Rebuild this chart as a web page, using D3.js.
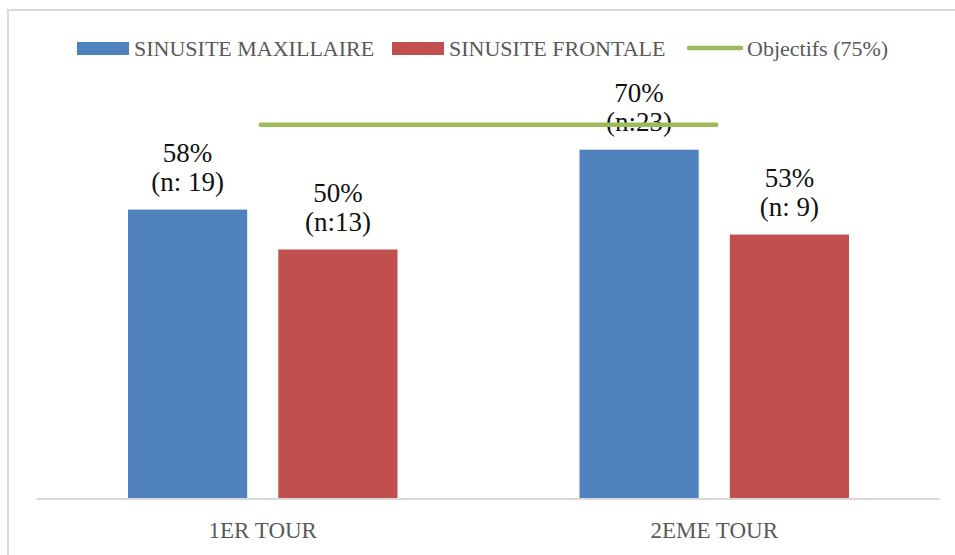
<!DOCTYPE html>
<html>
<head>
<meta charset="utf-8">
<script src="https://cdn.jsdelivr.net/npm/d3@7"></script>
<style>
  html, body { margin: 0; padding: 0; background: #fff; }
  svg { display: block; font-family: "Liberation Serif", "DejaVu Serif", serif; }
</style>
</head>
<body>
<svg id="chart" width="955" height="555"></svg>
<script>
// ── data ─────────────────────────────────────
const categories = ["1ER TOUR", "2EME TOUR"];
const seriesNames = ["SINUSITE MAXILLAIRE", "SINUSITE FRONTALE"];
const maxillaire = [58, 70];
const frontale   = [50, 53];
const maxillaireN = ["(n: 19)", "(n:23)"];
const frontaleN   = ["(n:13)", "(n: 9)"];
const goalLabel = "Objectifs (75%)";
const goalValue = 75;

const COLORS = ["#4F81BD", "#C0504D"];
const GOAL_COLOR = "#9BBB59";

const W = 955, H = 555;
const plot = { left: 37, right: 940, bottom: 499 };

const svg = d3.select("#chart");

// outer frame (only top + left visible in the crop)
svg.append("rect")
  .attr("x", 8).attr("y", 10)
  .attr("width", W + 20).attr("height", H + 20)
  .attr("fill", "none")
  .attr("stroke", "#d9d9d9")
  .attr("stroke-width", 2);

const x0 = d3.scaleBand()
  .domain(categories)
  .range([plot.left, plot.right]);

const x1 = d3.scaleBand()
  .domain(seriesNames)
  .range([91, x0.bandwidth() - 91])
  .paddingInner(0.207);

const y = d3.scaleLinear()
  .domain([0, 100])
  .range([plot.bottom, plot.bottom - 499]);

const rows = categories.map((c, i) => ({
  cat: c,
  vals: [
    { s: seriesNames[0], v: maxillaire[i], n: maxillaireN[i] },
    { s: seriesNames[1], v: frontale[i], n: frontaleN[i] }
  ]
}));

const groups = svg.selectAll(".grp")
  .data(rows)
  .join("g")
    .attr("class", "grp")
    .attr("transform", d => `translate(${x0(d.cat)},0)`);

groups.selectAll("rect")
  .data(d => d.vals)
  .join("rect")
    .attr("x", d => x1(d.s))
    .attr("y", d => y(d.v))
    .attr("width", x1.bandwidth())
    .attr("height", d => y(0) - y(d.v))
    .attr("fill", (d, i) => COLORS[i]);

// axis baseline
svg.append("line")
  .attr("x1", plot.left).attr("x2", plot.right)
  .attr("y1", plot.bottom).attr("y2", plot.bottom)
  .attr("stroke", "#d9d9d9")
  .attr("stroke-width", 2);

// data labels (two lines)
const lbl = groups.selectAll(".lbl")
  .data(d => d.vals)
  .join("text")
    .attr("class", "lbl")
    .attr("text-anchor", "middle")
    .attr("font-size", 27)
    .attr("fill", "#111");
lbl.append("tspan")
  .attr("x", d => x1(d.s) + x1.bandwidth() / 2)
  .attr("y", d => y(d.v) - 48)
  .text(d => d.v + "%");
lbl.append("tspan")
  .attr("x", d => x1(d.s) + x1.bandwidth() / 2)
  .attr("y", d => y(d.v) - 19)
  .text(d => d.n);

// goal line: from first category centre to last category centre
svg.append("line")
  .attr("x1", x0(categories[0]) + x0.bandwidth() / 2 - 2)
  .attr("x2", x0(categories[1]) + x0.bandwidth() / 2 + 2)
  .attr("y1", y(goalValue)).attr("y2", y(goalValue))
  .attr("stroke", GOAL_COLOR)
  .attr("stroke-width", 4.5)
  .attr("stroke-linecap", "round");

// category labels
svg.selectAll(".cat")
  .data(categories)
  .join("text")
    .attr("class", "cat")
    .attr("x", d => x0(d) + x0.bandwidth() / 2)
    .attr("y", 538)
    .attr("text-anchor", "middle")
    .attr("font-size", 23)
    .attr("fill", "#595959")
    .text(d => d);

// ── legend ───────────────────────────────────
const legend = svg.append("g").attr("font-size", 22).attr("fill", "#595959");
const swatchX = [77, 392];
seriesNames.forEach((name, i) => {
  legend.append("rect")
    .attr("x", swatchX[i]).attr("y", 42)
    .attr("width", 52).attr("height", 13)
    .attr("fill", COLORS[i]);
  legend.append("text")
    .attr("x", swatchX[i] + 57).attr("y", 56)
    .text(name);
});
legend.append("line")
  .attr("x1", 689).attr("x2", 741)
  .attr("y1", 48).attr("y2", 48)
  .attr("stroke", GOAL_COLOR)
  .attr("stroke-width", 4.5)
  .attr("stroke-linecap", "round");
legend.append("text")
  .attr("x", 747).attr("y", 56)
  .text(goalLabel);
</script>
</body>
</html>
